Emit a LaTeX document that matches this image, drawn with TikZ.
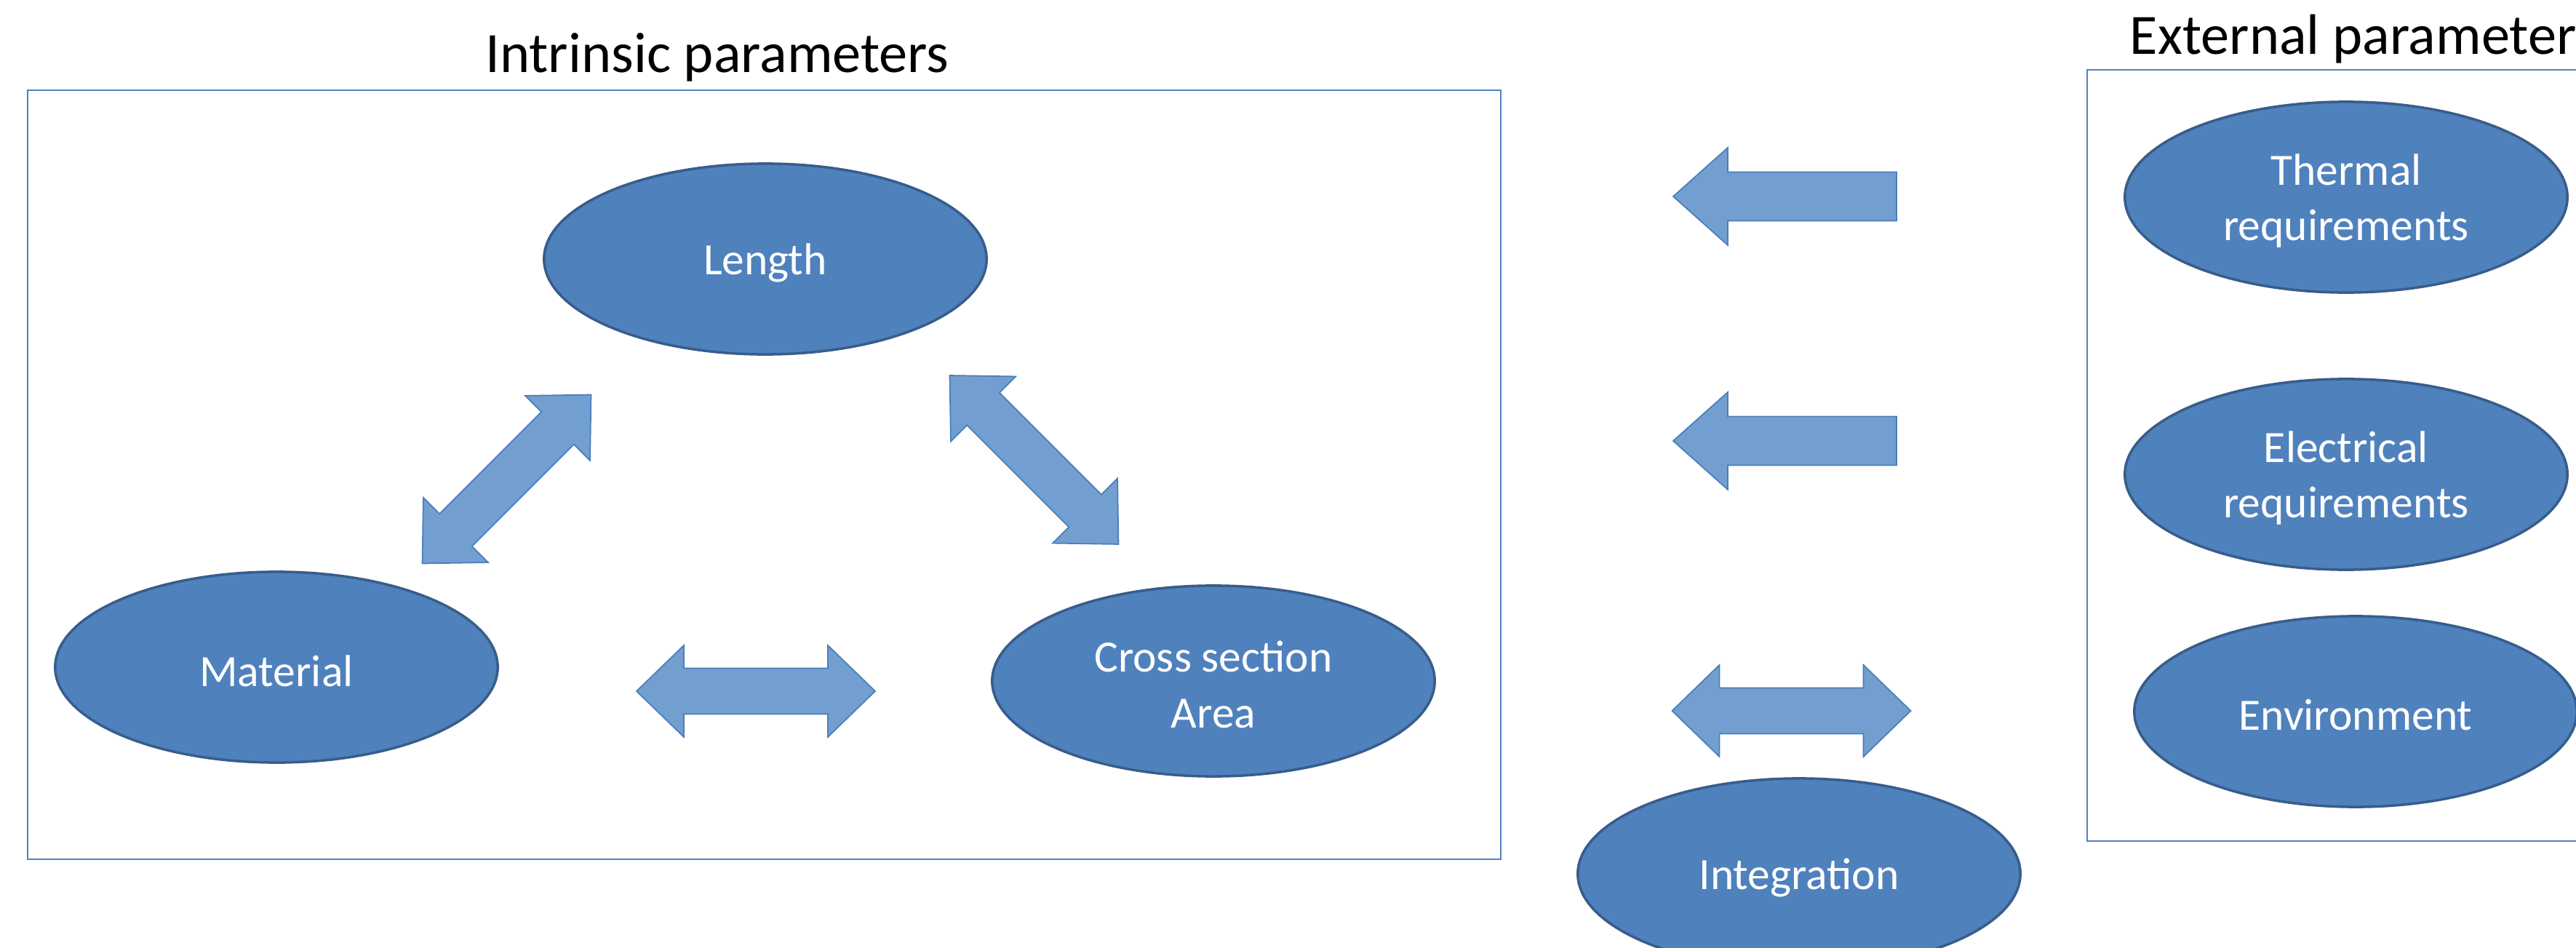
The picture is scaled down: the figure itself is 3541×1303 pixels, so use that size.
\documentclass[tikz,border=0pt]{standalone}
\usepackage{fontspec}
\setmainfont{Carlito}
\usetikzlibrary{shapes.geometric}
\definecolor{ellfill}{HTML}{4F81BD}
\definecolor{elldraw}{HTML}{385D8A}
\definecolor{arrfill}{HTML}{729FCF}
\definecolor{arrdraw}{HTML}{4A7EBB}
\definecolor{boxdraw}{HTML}{4F81BD}
\begin{document}
\begin{tikzpicture}[x=0.01cm,y=-0.01cm,
  ell/.style={ellipse, draw=elldraw, fill=ellfill, line width=1pt,
    minimum width=6.08cm, minimum height=2.62cm, inner sep=0pt},
  lbl/.style={text=white, align=center, inner sep=0pt, yshift=-0.05cm,
    font=\fontsize{17.5}{21.7}\selectfont},
  blockarrow/.style={fill=arrfill, draw=arrdraw, line width=0.5pt, line join=miter},
  frame/.style={draw=boxdraw, line width=0.6pt},
  title/.style={font=\fontsize{22.3}{26}\selectfont, inner sep=0pt},
  dblarrow/.pic={\path[blockarrow] (-164,0) -- (-99,-63) -- (-99,-31.5) -- (99,-31.5) -- (99,-63) -- (164,0)
      -- (99,63) -- (99,31.5) -- (-99,31.5) -- (-99,63) -- cycle;},
  leftarrow/.pic={\path[blockarrow] (0,0) -- (75,-67) -- (75,-33.5) -- (307,-33.5) -- (307,33.5)
      -- (75,33.5) -- (75,67) -- cycle;}]
\useasboundingbox (0,0) rectangle (3541,1303);
\clip (0,0) rectangle (3541,1303);
\fill[white] (0,0) rectangle (3541,1303);

% frames
\draw[frame] (38,124) rectangle (2063,1181);
\draw[frame] (2869,96) rectangle (3620,1156);

% titles
\node[title, anchor=base] (tin) at (986,100) {Intrinsic parameters};
\node[title, anchor=base west] (tex) at (2927,74) {External parameters};

% intrinsic ellipses
\node[ell, label={[lbl]center:Length}] (len) at (1052,356) {};
\node[ell, label={[lbl]center:Material}] (mat) at (380,917) {};
\node[ell, label={[lbl]center:Cross section\\Area}] (csa) at (1668,936) {};

% external ellipses
\node[ell, label={[lbl]center:Thermal\\requirements}] (thr) at (3225,271) {};
\node[ell, label={[lbl]center:Electrical\\requirements}] (elr) at (3225,652) {};
\node[ell, label={[lbl]center:Environment}] (env) at (3238,978) {};
\node[ell, label={[lbl]center:Integration}] (int) at (2473,1201) {};

% block arrows
\pic[rotate=45] at (696.5,658.5) {dblarrow};
\pic[rotate=-45] at (1421.5,632) {dblarrow};
\pic at (1039,950) {dblarrow};
\pic at (2462.5,977) {dblarrow};
\pic at (2300,270) {leftarrow};
\pic at (2300,606) {leftarrow};
\end{tikzpicture}
\end{document}
